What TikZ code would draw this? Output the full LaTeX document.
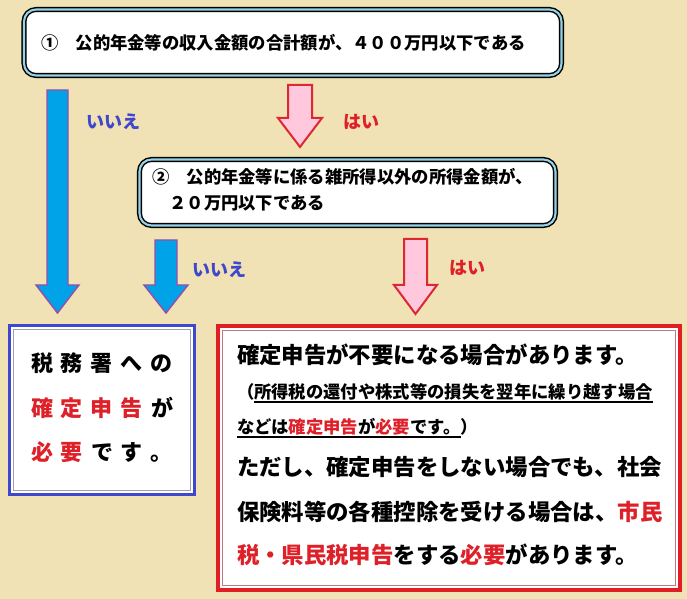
\documentclass[tikz,border=0pt]{standalone}
\usepackage{fontspec}
\newfontfamily\jp{Noto Sans CJK JP}
\definecolor{bg}{RGB}{240,226,180}
\definecolor{arrblue}{RGB}{0,162,232}
\definecolor{arrpurple}{RGB}{150,80,170}
\definecolor{arrpink}{RGB}{255,200,220}
\definecolor{arrred}{RGB}{220,40,50}
\definecolor{qblue}{RGB}{150,210,230}
\definecolor{noblue}{RGB}{63,72,204}
\definecolor{jred}{RGB}{222,32,40}
\definecolor{boxblue}{RGB}{63,72,204}
\definecolor{boxgray}{RGB}{160,160,180}
\definecolor{boxred}{RGB}{225,30,36}
\definecolor{boxpink}{RGB}{190,120,130}
\newcommand\blockarr[7]{%
  \draw[#1] ({#2-#6},#3) -- ({#2+#6},#3) -- ({#2+#6},#4) -- ({#2+#7},#4)
    -- (#2,#5) -- ({#2-#7},#4) -- ({#2-#6},#4) -- cycle;}
\newcommand\spc[1]{\makebox[22.5pt][c]{#1}}
\newcommand\rd[1]{\textcolor{jred}{#1}}
\newcommand\ul[1]{\setbox0\hbox{#1}\rlap{\rule[-3.2pt]{\wd0}{1.1pt}}\box0}
\begin{document}
\begin{tikzpicture}[x=0.75pt,y=-0.75pt,
  every node/.style={inner sep=0pt, outer sep=0pt, anchor=west},
  t13/.style={font=\jp\bfseries\fontsize{13pt}{13pt}\selectfont},
  t16/.style={font=\jp\bfseries\fontsize{16.8pt}{16.8pt}\selectfont},
  tsp/.style={font=\jp\bfseries\fontsize{16.5pt}{16.5pt}\selectfont},
  tnote/.style={font=\jp\bfseries\fontsize{13pt}{13pt}\selectfont},
  blue arrow/.style={fill=arrblue, draw=arrpurple, line width=1.1pt},
  pink arrow/.style={fill=arrpink, draw=arrred, line width=1.5pt},
  qbox/.style={draw=black, double=qblue, double distance=1.6pt, line width=1.1pt, fill=white, rounded corners=9pt},
  ans/.style={font=\jp\bfseries\fontsize{13.5pt}{13.5pt}\selectfont, text=noblue},
  yes/.style={font=\jp\bfseries\fontsize{13.5pt}{13.5pt}\selectfont, text=jred}]
\useasboundingbox[fill=bg] (0,0) rectangle (687,599);

% question boxes
\draw[qbox] (24,9.5) rectangle (561.5,75.5);
\node[t13] (q1) at (41,43) {①　公的年金等の収入金額の合計額が、４００万円以下である};

\draw[qbox] (139.5,159.5) rectangle (555.5,225.5);
\node[t13] (q2a) at (152,177) {②　公的年金等に係る雑所得以外の所得金額が、};
\node[t13] (q2b) at (152,203) {　２０万円以下である};

% arrows
\blockarr{blue arrow}{57.5}{90}{285}{313}{10.5}{21.5}
\blockarr{blue arrow}{166}{240}{285}{313}{11}{22}
\blockarr{pink arrow}{300}{85}{118}{147}{12}{22}
\blockarr{pink arrow}{415.5}{239}{285}{314}{11.5}{21.5}

\node[ans] (no1) at (86,122) {いいえ};
\node[yes] (yes1) at (343,122) {はい};
\node[ans] (no2) at (192,270) {いいえ};
\node[yes] (yes2) at (449,268) {はい};

% blue result box
\draw[boxblue, line width=2.6pt, fill=white] (9.75,325.75) rectangle (194.25,494.25);
\draw[boxgray, line width=0.75pt] (13.5,329.5) rectangle (190.5,490.5);
\node[tsp] (b1) at (27,363) {\spc{税}\spc{務}\spc{署}\spc{へ}\spc{の}};
\node[tsp] (b2) at (27,408) {\rd{\spc{確}\spc{定}\spc{申}\spc{告}}\spc{が}};
\node[tsp] (b3) at (27,452) {\rd{\spc{必}\spc{要}}\spc{で}\spc{す}\spc{。}};

% red result box
\draw[boxred, line width=3pt, fill=white] (218,326) rectangle (680,590);
\draw[boxpink, line width=0.75pt] (222.5,330.5) rectangle (675.5,585.5);
\node[t16] (r1) at (237,355) {確定申告が不要になる場合があります。};
\node[tnote] (r2) at (237,393) {（\ul{所得税の還付や株式等の損失を翌年に繰り越す場合}};
\node[tnote] (r3) at (237,428) {\ul{などは\rd{確定申告}が\rd{必要}です。}）};
\node[t16] (r4) at (237,467) {ただし、確定申告をしない場合でも、社会};
\node[t16] (r5) at (237,512) {保険料等の各種控除を受ける場合は、\rd{市民}};
\node[t16] (r6) at (237,555) {\rd{税・県民税申告}をする\rd{必要}があります。};
\end{tikzpicture}
\end{document}
